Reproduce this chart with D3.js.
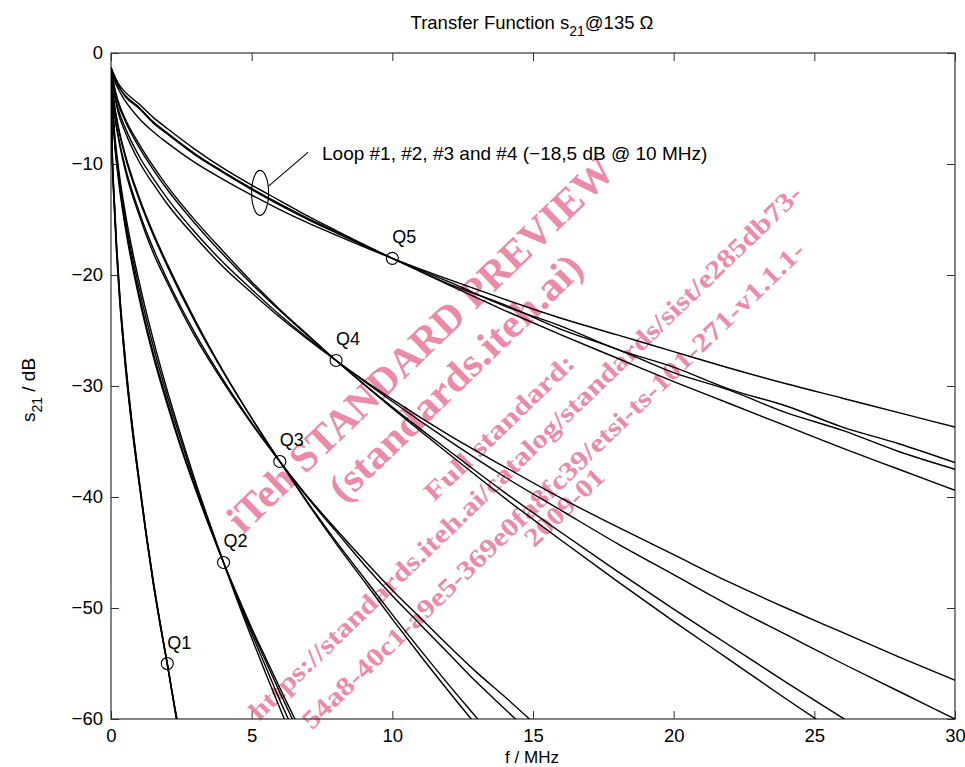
<!DOCTYPE html>
<html><head><meta charset="utf-8">
<script src="https://cdn.jsdelivr.net/npm/d3@7/dist/d3.min.js"></script>
<style>body{margin:0;background:#fff}svg{display:block}</style>
</head><body><svg id="c" width="965" height="767"></svg>
<script>
// ---- data ----
const xTicks = [0, 5, 10, 15, 20, 25, 30];
const yTicks = [0, -10, -20, -30, -40, -50, -60];

const fQ5 = [0,0.1,0.25,0.5,1,1.5,2,3,4,5,6,7,8,10,12,14,16,18,20,22,24,26,28,30];
const q5Loop1 = [-1.3,-2.3,-3.2,-4.3,-5.9,-7.1,-8.1,-9.9,-11.4,-12.8,-14.1,-15.3,-16.4,-18.5,-20.4,-22.2,-23.9,-25.4,-26.9,-28.4,-29.8,-31.1,-32.4,-33.7];
const q5Loop2 = [-1.3,-2.1,-2.9,-3.9,-5.0,-6.3,-7.3,-9.2,-10.8,-12.3,-13.7,-15.0,-16.2,-18.5,-20.6,-22.8,-24.6,-26.7,-28.3,-30.3,-31.8,-33.7,-35.2,-36.9];
const q5Loop3 = [-1.3,-2.0,-2.9,-3.8,-4.9,-6.2,-7.2,-9.1,-10.7,-12.2,-13.6,-14.9,-16.1,-18.5,-20.8,-22.7,-24.9,-26.7,-28.8,-30.4,-32.4,-34.0,-35.9,-37.5];
const q5Loop4 = [-1.3,-1.9,-2.7,-3.5,-4.6,-5.8,-6.8,-8.7,-10.4,-11.9,-13.3,-14.7,-16.0,-18.5,-20.9,-23.2,-25.4,-27.5,-29.6,-31.6,-33.6,-35.6,-37.5,-39.4];

const fQ4 = fQ5;
const q4Loop1 = [-1.3,-3.4,-5.3,-7.1,-9.8,-11.8,-13.6,-16.6,-19.3,-21.6,-23.8,-25.8,-27.7,-31.2,-34.4,-37.3,-40.1,-42.7,-45.2,-47.7,-50.0,-52.2,-54.4,-56.5];
const q4Loop2 = [-1.3,-3.2,-5.0,-6.7,-9.3,-11.3,-13.1,-16.2,-18.9,-21.3,-23.6,-25.7,-27.7,-31.4,-34.9,-38.2,-41.2,-44.2,-47.0,-49.8,-52.4,-55.0,-57.5,-60.0];
const q4Loop3 = [-1.3,-2.9,-4.5,-6.1,-8.5,-10.5,-12.3,-15.4,-18.2,-20.8,-23.2,-25.5,-27.7,-31.9,-35.8,-39.6,-43.2,-46.7,-50.1,-53.4,-56.7,-59.9,-63.0,-66.1];
const q4Loop4 = [-1.3,-2.8,-4.3,-5.9,-8.2,-10.2,-12.0,-15.1,-17.9,-20.6,-23.1,-25.4,-27.7,-32.0,-36.1,-40.1,-43.9,-47.6,-51.2,-54.7,-58.2,-61.6,-64.9,-68.2];

const fQ3 = [0,0.1,0.25,0.5,1,1.5,2,3,4,5,6,7,8,9,10,11,12,13,14,15];
const q3Loop1 = [-1.3,-4.2,-6.5,-9.1,-13.0,-16.2,-19.0,-24.1,-28.7,-32.9,-36.8,-40.6,-44.2,-47.6,-51.0,-54.3,-57.5,-60.6,-63.7,-66.7];
const q3Loop2 = [-1.3,-4.3,-6.6,-9.3,-13.2,-16.4,-19.2,-24.3,-28.8,-32.9,-36.8,-40.5,-44.0,-47.3,-50.6,-53.8,-56.9,-59.9,-62.9,-65.7];
const q3Loop3 = [-1.3,-4.8,-7.3,-10.2,-14.3,-17.6,-20.4,-25.3,-29.5,-33.3,-36.8,-40.1,-43.1,-46.1,-48.9,-51.5,-54.1,-56.7,-59.1,-61.5];
const q3Loop4 = [-1.3,-5.0,-7.5,-10.5,-14.6,-18.0,-20.7,-25.6,-29.7,-33.4,-36.8,-40.0,-42.9,-45.7,-48.4,-50.9,-53.4,-55.8,-58.0,-60.3];

const fQ2 = [0,0.1,0.25,0.5,1,1.5,2,2.5,3,3.5,4,4.5,5,5.5,6,6.5,7];
const q2Loop1 = [-1.3,-6.3,-10.0,-14.3,-20.6,-25.8,-30.4,-34.6,-38.6,-42.3,-45.9,-49.4,-52.7,-55.9,-59.0,-62.1,-65.1];
const q2Loop2 = [-1.3,-6.6,-10.4,-14.8,-21.2,-26.4,-30.9,-35.0,-38.9,-42.5,-45.9,-49.2,-52.3,-55.3,-58.3,-61.1,-63.9];
const q2Loop3 = [-1.3,-6.9,-10.8,-15.3,-21.8,-27.0,-31.4,-35.5,-39.2,-42.6,-45.9,-49.0,-52.0,-54.8,-57.6,-60.3,-62.9];
const q2Loop4 = [-1.3,-7.1,-11.1,-15.6,-22.1,-27.3,-31.7,-35.7,-39.3,-42.7,-45.9,-48.9,-51.8,-54.5,-57.2,-59.8,-62.2];

const fQ1 = [0,0.02,0.05,0.1,0.2,0.3,0.5,0.75,1,1.25,1.5,1.75,2,2.25,2.5];
const q1Loop1 = [-1.3,-5.5,-9.5,-12.5,-17.5,-21.5,-27.5,-33.5,-38.5,-43.3,-47.6,-51.4,-55.0,-58.8,-62.5];
const q1Loop2 = [-1.3,-5.8,-9.8,-12.9,-17.9,-21.8,-27.8,-33.7,-38.7,-43.4,-47.7,-51.5,-55.0,-58.7,-62.3];
const q1Loop3 = [-1.3,-5.3,-9.3,-12.3,-17.3,-21.3,-27.3,-33.3,-38.4,-43.2,-47.5,-51.4,-55.0,-58.9,-62.6];
const q1Loop4 = [-1.3,-6.0,-10.0,-13.1,-18.1,-22.0,-28.0,-33.9,-38.8,-43.5,-47.8,-51.6,-55.1,-58.7,-62.2];

const markerNames = ["Q1","Q2","Q3","Q4","Q5"];
const markerF = [2, 4, 6, 8, 10];
const markerS = [-55.0, -45.9, -36.8, -27.7, -18.5];

const titleMain = "Transfer Function s", titleSub = "21", titleEnd = "@135 Ω";
const annotation = "Loop #1, #2, #3 and #4 (−18,5 dB @ 10 MHz)";
const watermark = [
  "iTeh STANDARD PREVIEW",
  "(standards.iteh.ai)",
  "Full standard:",
  "https://standards.iteh.ai/catalog/standards/sist/e285db73-",
  "54a8-40c1-a9e5-369e0fa8fc39/etsi-ts-101-271-v1.1.1-",
  "2009-01"
];

// ---- drawing ----
const svg = d3.select("#c");
const L = 111, R = 955, T = 53, B = 719;
const x = d3.scaleLinear().domain([0, 30]).range([L, R]);
const y = d3.scaleLinear().domain([-60, 0]).range([B, T]);
const font = "'Liberation Sans', Arial, Helvetica, sans-serif";

svg.append("defs").append("clipPath").attr("id","clip")
  .append("rect").attr("x",L).attr("y",T).attr("width",R-L).attr("height",B-T);

// watermark (beneath curves)
const wm = svg.append("g").attr("fill","#ec8aa9")
  .attr("font-family","'Liberation Serif','Times New Roman',serif").attr("font-weight","bold");
const wmPos = [
  {cx:420, cy:344, len:520, fs:41},
  {cx:455, cy:377, len:336, fs:40},
  {cx:499, cy:427, len:198, fs:26},
  {cx:525, cy:452, len:757, fs:26},
  {cx:553, cy:485, len:688, fs:26},
  {cx:564, cy:507, len:100, fs:26}
];
watermark.forEach((t,i) => {
  const p = wmPos[i];
  wm.append("text").attr("transform",`translate(${p.cx},${p.cy}) rotate(-44)`)
    .attr("text-anchor","middle").attr("dy","0.35em").attr("font-size",p.fs)
    .attr("textLength",p.len).attr("lengthAdjust","spacingAndGlyphs").text(t);
});

// axes box
const axisColor = "#333";
function styleAxis(g){
  g.selectAll(".domain").remove();
  g.selectAll(".tick line").attr("stroke",axisColor);
  g.selectAll("text").attr("font-family",font).attr("font-size",18.5).attr("fill","#000");
}
svg.append("g").attr("transform",`translate(0,${B})`)
  .call(d3.axisBottom(x).tickValues(xTicks).tickSizeInner(-8).tickSizeOuter(0).tickPadding(10).tickFormat(d3.format("d")))
  .call(styleAxis);
svg.append("g").attr("transform",`translate(0,${T})`)
  .call(d3.axisTop(x).tickValues(xTicks).tickSizeInner(-8).tickSizeOuter(0).tickFormat(""))
  .call(styleAxis);
svg.append("g").attr("transform",`translate(${L},0)`)
  .call(d3.axisLeft(y).tickValues(yTicks).tickSizeInner(-8).tickSizeOuter(0).tickPadding(8).tickFormat(d3.format("d")))
  .call(styleAxis);
svg.append("g").attr("transform",`translate(${R},0)`)
  .call(d3.axisRight(y).tickValues(yTicks).tickSizeInner(-8).tickSizeOuter(0).tickFormat(""))
  .call(styleAxis);
svg.append("rect").attr("x",L).attr("y",T).attr("width",R-L).attr("height",B-T)
  .attr("fill","none").attr("stroke",axisColor).attr("stroke-width",1.2);

// curves
const groups = [
  [fQ1,[q1Loop1,q1Loop2,q1Loop3,q1Loop4]],
  [fQ2,[q2Loop1,q2Loop2,q2Loop3,q2Loop4]],
  [fQ3,[q3Loop1,q3Loop2,q3Loop3,q3Loop4]],
  [fQ4,[q4Loop1,q4Loop2,q4Loop3,q4Loop4]],
  [fQ5,[q5Loop1,q5Loop2,q5Loop3,q5Loop4]]
];
const line = d3.line().x(d=>x(d[0])).y(d=>y(d[1])).curve(d3.curveMonotoneX);
const cg = svg.append("g").attr("clip-path","url(#clip)");
groups.forEach(([fs, loops]) => {
  loops.forEach(vals => {
    cg.append("path").datum(fs.map((f,i)=>[f,vals[i]]))
      .attr("d",line).attr("fill","none").attr("stroke","#000").attr("stroke-width",1.4);
  });
});

// markers
markerNames.forEach((n,i) => {
  svg.append("circle").attr("cx",x(markerF[i])).attr("cy",y(markerS[i])).attr("r",6)
    .attr("fill","none").attr("stroke","#000").attr("stroke-width",1.1);
  svg.append("text").attr("x",x(markerF[i])).attr("y",y(markerS[i])-15)
    .attr("font-family",font).attr("font-size",18).text(n);
});

// annotation ellipse + leader + text
svg.append("ellipse").attr("cx",x(5.3)).attr("cy",y(-12.6)).attr("rx",8.5).attr("ry",22.5)
  .attr("fill","none").attr("stroke","#000").attr("stroke-width",1.1);
svg.append("line").attr("x1",x(5.6)).attr("y1",y(-12.0)).attr("x2",x(7.0)).attr("y2",y(-8.95))
  .attr("stroke","#000").attr("stroke-width",1.1);
svg.append("text").attr("x",322).attr("y",160).attr("font-family",font).attr("font-size",19).text(annotation);

// title
const tt = svg.append("text").attr("x",532).attr("y",29).attr("text-anchor","middle")
  .attr("font-family",font).attr("font-size",18.5);
tt.append("tspan").text(titleMain);
tt.append("tspan").attr("font-size",14).attr("dy",7).text(titleSub);
tt.append("tspan").attr("dy",-7).text(titleEnd);

// axis labels
svg.append("text").attr("x",532).attr("y",763).attr("text-anchor","middle")
  .attr("font-family",font).attr("font-size",17).text("f / MHz");
const yl = svg.append("text").attr("transform","translate(35,390) rotate(-90)").attr("text-anchor","middle")
  .attr("font-family",font).attr("font-size",19);
yl.append("tspan").text("s");
yl.append("tspan").attr("font-size",14).attr("dy",7).text("21");
yl.append("tspan").attr("dy",-7).text(" / dB");
</script></body></html>
